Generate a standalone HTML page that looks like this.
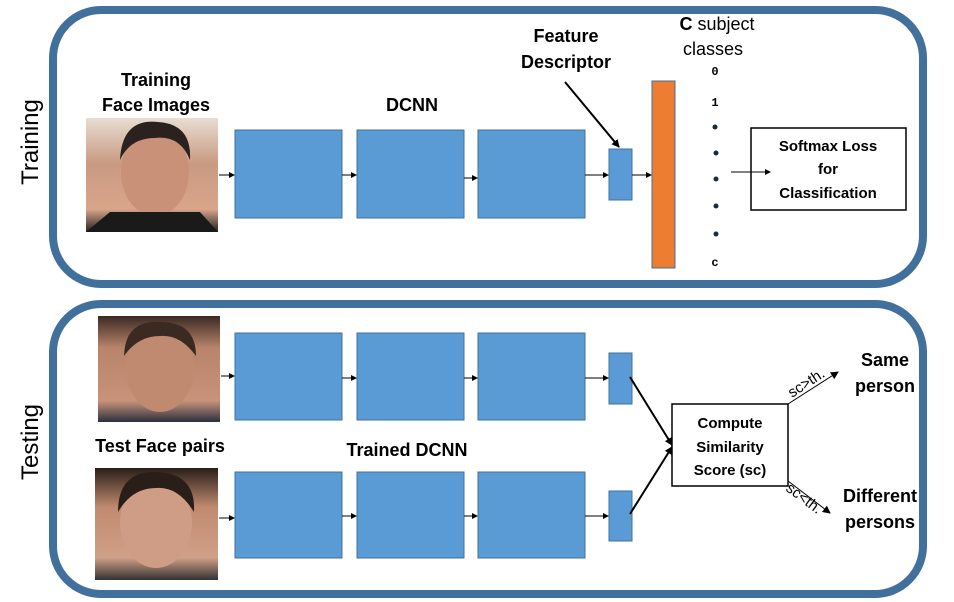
<!DOCTYPE html>
<html><head><style>
html,body{margin:0;padding:0;background:#fff;}
svg{display:block;font-family:"Liberation Sans",sans-serif;}
.b{font-weight:bold;}
</style></head><body>
<svg width="954" height="602" viewBox="0 0 954 602" xmlns="http://www.w3.org/2000/svg">
<defs>
<marker id="a" markerWidth="8" markerHeight="8" refX="7" refY="4" orient="auto" markerUnits="userSpaceOnUse"><path d="M0,0 L8,4 L0,8 z" fill="#000"/></marker>
<marker id="s" markerWidth="6" markerHeight="6" refX="5" refY="3" orient="auto" markerUnits="userSpaceOnUse"><path d="M0,0 L6,3 L0,6 z" fill="#000"/></marker>
<linearGradient id="f1" x1="0" y1="0" x2="0" y2="1"><stop offset="0" stop-color="#e8ddd2"/><stop offset="0.4" stop-color="#c99a82"/><stop offset="0.8" stop-color="#d9a58b"/><stop offset="1" stop-color="#222"/></linearGradient>
<linearGradient id="f2" x1="0" y1="0" x2="0" y2="1"><stop offset="0" stop-color="#3a2a22"/><stop offset="0.3" stop-color="#b8846c"/><stop offset="0.8" stop-color="#c9927a"/><stop offset="1" stop-color="#2a3040"/></linearGradient>
<linearGradient id="f3" x1="0" y1="0" x2="0" y2="1"><stop offset="0" stop-color="#2a1e18"/><stop offset="0.35" stop-color="#c08a70"/><stop offset="0.8" stop-color="#d0a088"/><stop offset="1" stop-color="#333"/></linearGradient>
</defs>
<rect x="53" y="10" width="870" height="274" rx="48" fill="none" stroke="#41709c" stroke-width="8"/>
<rect x="53" y="304" width="870" height="290" rx="48" fill="none" stroke="#41709c" stroke-width="8"/>
<text transform="translate(38,142) rotate(-90)" text-anchor="middle" font-size="24">Training</text>
<text transform="translate(38,442) rotate(-90)" text-anchor="middle" font-size="24">Testing</text>

<text x="156" y="86" text-anchor="middle" class="b" font-size="18">Training</text>
<text x="156" y="111" text-anchor="middle" class="b" font-size="18">Face Images</text>
<rect x="86" y="118" width="132" height="114" fill="url(#f1)"/>
<ellipse cx="155" cy="172" rx="34" ry="44" fill="#c99177"/>
<path d="M120,160 Q122,118 158,122 Q192,124 190,160 Q180,135 155,138 Q130,138 120,160z" fill="#2b2220"/>
<path d="M86,232 L110,212 L200,212 L218,232z" fill="#1a1a1a"/>
<text x="412" y="111" text-anchor="middle" class="b" font-size="18">DCNN</text>
<g fill="#5b9bd5" stroke="#41719c" stroke-width="1">
<rect x="235" y="130" width="107" height="88"/><rect x="357" y="130" width="107" height="88"/><rect x="478" y="130" width="107" height="88"/>
<rect x="609" y="149" width="23" height="51"/>
</g>
<rect x="652" y="81" width="23" height="187" fill="#ed7d31" stroke="#41719c" stroke-width="1"/>
<g stroke="#000" stroke-width="1" marker-end="url(#s)">
<line x1="219" y1="175" x2="234" y2="175"/><line x1="342" y1="175" x2="356" y2="175"/><line x1="464" y1="178" x2="477" y2="178"/>
<line x1="585" y1="175" x2="608" y2="175"/><line x1="632" y1="175" x2="651" y2="175"/>
</g>
<line x1="565" y1="82" x2="619" y2="147" stroke="#000" stroke-width="2" marker-end="url(#a)"/>
<text x="566" y="42" text-anchor="middle" class="b" font-size="18">Feature</text>
<text x="566" y="68" text-anchor="middle" class="b" font-size="18">Descriptor</text>
<text x="717" y="30" text-anchor="middle" font-size="18"><tspan font-weight="bold">C</tspan> subject</text>
<text x="713" y="55" text-anchor="middle" font-size="18">classes</text>
<g font-family="Liberation Mono,monospace" class="b" font-size="12" text-anchor="middle">
<text x="715" y="75">0</text><text x="715" y="106">1</text><text x="715" y="266">c</text></g>
<g fill="#1a2a40"><circle cx="715" cy="127" r="2.5"/><circle cx="716" cy="153" r="2.5"/><circle cx="716" cy="179" r="2.5"/><circle cx="716" cy="206" r="2.5"/><circle cx="716" cy="234" r="2.5"/></g>
<rect x="751" y="128" width="155" height="82" fill="#fff" stroke="#000" stroke-width="1.5"/>
<line x1="731" y1="172" x2="770" y2="172" stroke="#000" stroke-width="1" marker-end="url(#s)"/>
<g class="b" font-size="15" text-anchor="middle"><text x="828" y="151">Softmax Loss</text><text x="828" y="174">for</text><text x="828" y="198">Classification</text></g>

<rect x="98" y="316" width="122" height="106" fill="url(#f2)"/>
<ellipse cx="160" cy="368" rx="34" ry="44" fill="#c08a70"/>
<path d="M124,356 Q125,320 160,322 Q196,322 196,356 Q180,334 160,336 Q138,336 124,356z" fill="#3a2a22"/>
<rect x="95" y="468" width="123" height="112" fill="url(#f3)"/>
<ellipse cx="156" cy="522" rx="36" ry="46" fill="#cf9d85"/>
<path d="M118,512 Q118,470 158,472 Q196,474 194,512 Q178,486 156,488 Q132,488 118,512z" fill="#2a1e18"/>
<text x="160" y="452" text-anchor="middle" class="b" font-size="18">Test Face pairs</text>
<text x="407" y="456" text-anchor="middle" class="b" font-size="18">Trained DCNN</text>
<g fill="#5b9bd5" stroke="#41719c" stroke-width="1">
<rect x="235" y="333" width="107" height="87"/><rect x="357" y="333" width="107" height="87"/><rect x="478" y="333" width="107" height="87"/>
<rect x="609" y="353" width="23" height="51"/>
<rect x="235" y="472" width="107" height="86"/><rect x="357" y="472" width="107" height="86"/><rect x="478" y="472" width="107" height="86"/>
<rect x="609" y="491" width="23" height="50"/>
</g>
<g stroke="#000" stroke-width="1" marker-end="url(#s)">
<line x1="221" y1="376" x2="234" y2="376"/><line x1="342" y1="378" x2="356" y2="378"/><line x1="464" y1="378" x2="477" y2="378"/><line x1="585" y1="378" x2="608" y2="378"/>
<line x1="219" y1="518" x2="234" y2="518"/><line x1="342" y1="516" x2="356" y2="516"/><line x1="464" y1="516" x2="477" y2="516"/><line x1="585" y1="516" x2="608" y2="516"/>
</g>
<g stroke="#000" stroke-width="2" marker-end="url(#a)">
<line x1="630" y1="377" x2="672" y2="445"/><line x1="630" y1="514" x2="672" y2="447"/>
</g>
<rect x="672" y="404" width="116" height="82" fill="#fff" stroke="#000" stroke-width="1.5"/>
<g class="b" font-size="15" text-anchor="middle"><text x="730" y="428">Compute</text><text x="730" y="452">Similarity</text><text x="730" y="475">Score (sc)</text></g>
<g stroke="#000" stroke-width="1" marker-end="url(#a)">
<line x1="788" y1="404" x2="838" y2="372"/><line x1="788" y1="481" x2="830" y2="513"/>
</g>
<text transform="translate(792,398) rotate(-33)" font-size="15">sc&gt;th.</text>
<text transform="translate(785,490) rotate(37)" font-size="15">sc&lt;th.</text>
<g class="b" font-size="18" text-anchor="middle"><text x="885" y="366">Same</text><text x="885" y="392">person</text><text x="880" y="502">Different</text><text x="880" y="528">persons</text></g>
</svg>
</body></html>
